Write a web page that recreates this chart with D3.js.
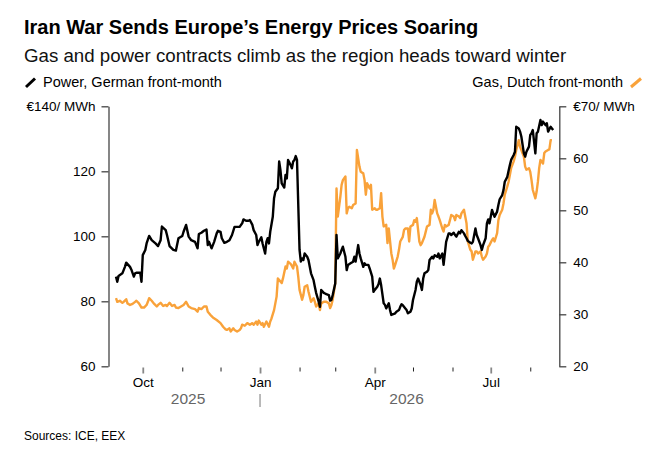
<!DOCTYPE html>
<html>
<head>
<meta charset="utf-8">
<script src="https://cdn.jsdelivr.net/npm/d3@7"></script>
<style>
  body { margin: 0; background: #fff; }
  svg { font-family: "Liberation Sans", Arial, sans-serif; }
</style>
</head>
<body>
<script>
//Chart data
const powerDates = ["2025-09-10","2025-09-11","2025-09-12","2025-09-15","2025-09-17","2025-09-18","2025-09-21","2025-09-22","2025-09-24","2025-09-25","2025-09-26","2025-09-28","2025-09-29","2025-09-30",
  "2025-10-01","2025-10-03","2025-10-04","2025-10-06","2025-10-08","2025-10-11","2025-10-13","2025-10-15","2025-10-16","2025-10-19","2025-10-20","2025-10-22","2025-10-25","2025-10-27","2025-10-29",
  "2025-11-01","2025-11-02","2025-11-04","2025-11-06","2025-11-08","2025-11-11","2025-11-13","2025-11-14","2025-11-16","2025-11-18","2025-11-20","2025-11-21","2025-11-22","2025-11-24","2025-11-26","2025-11-28","2025-11-29",
  "2025-12-01","2025-12-02","2025-12-04","2025-12-06","2025-12-08","2025-12-10","2025-12-12","2025-12-14","2025-12-16","2025-12-18","2025-12-19","2025-12-21","2025-12-23","2025-12-24","2025-12-26","2025-12-27","2025-12-29","2025-12-30","2025-12-31",
  "2026-01-02","2026-01-03","2026-01-05","2026-01-06","2026-01-07","2026-01-08","2026-01-09","2026-01-11","2026-01-12","2026-01-13","2026-01-15","2026-01-16","2026-01-17","2026-01-18","2026-01-20","2026-01-21","2026-01-22","2026-01-23","2026-01-25","2026-01-26","2026-01-27","2026-01-28","2026-01-29","2026-01-30",
  "2026-02-01","2026-02-02","2026-02-03","2026-02-04","2026-02-05","2026-02-07","2026-02-08","2026-02-10","2026-02-12","2026-02-13","2026-02-14","2026-02-16","2026-02-17","2026-02-18","2026-02-20","2026-02-21","2026-02-22","2026-02-24","2026-02-25","2026-02-26","2026-02-27",
  "2026-03-01","2026-03-02","2026-03-03","2026-03-05","2026-03-06","2026-03-07","2026-03-09","2026-03-10","2026-03-11","2026-03-13","2026-03-15","2026-03-16","2026-03-17","2026-03-19","2026-03-20","2026-03-21","2026-03-23","2026-03-24","2026-03-25","2026-03-27","2026-03-28","2026-03-30","2026-03-31",
  "2026-04-01","2026-04-03","2026-04-04","2026-04-05","2026-04-06","2026-04-08","2026-04-09","2026-04-10","2026-04-12","2026-04-13","2026-04-14","2026-04-16","2026-04-17","2026-04-18","2026-04-20","2026-04-21","2026-04-22","2026-04-23","2026-04-25","2026-04-26","2026-04-27","2026-04-29","2026-04-30",
  "2026-05-01","2026-05-03","2026-05-04","2026-05-05","2026-05-07","2026-05-08","2026-05-09","2026-05-10","2026-05-12","2026-05-13","2026-05-14","2026-05-16","2026-05-17","2026-05-18","2026-05-20","2026-05-21","2026-05-22","2026-05-24","2026-05-25","2026-05-26","2026-05-27","2026-05-29","2026-05-30","2026-05-31",
  "2026-06-02","2026-06-03","2026-06-04","2026-06-06","2026-06-07","2026-06-08","2026-06-10","2026-06-11","2026-06-12","2026-06-13","2026-06-15","2026-06-16","2026-06-17","2026-06-19","2026-06-20","2026-06-21","2026-06-23","2026-06-24","2026-06-25","2026-06-27","2026-06-28","2026-06-29","2026-06-30",
  "2026-07-02","2026-07-03","2026-07-04","2026-07-06","2026-07-07","2026-07-08","2026-07-10","2026-07-11","2026-07-12","2026-07-14","2026-07-15","2026-07-16","2026-07-17","2026-07-19","2026-07-20","2026-07-21","2026-07-23","2026-07-24","2026-07-25","2026-07-27","2026-07-28","2026-07-29","2026-07-31",
  "2026-08-01","2026-08-02","2026-08-03","2026-08-05","2026-08-06","2026-08-07","2026-08-09","2026-08-10","2026-08-11","2026-08-13","2026-08-14","2026-08-15","2026-08-17","2026-08-18","2026-08-19"];
const powerPrices = [87.6,86.0,87.8,88.6,90.6,91.9,90.6,89.8,87.6,88.6,88.8,88.8,88.8,86.0,
  94.2,95.8,97.8,100.1,98.8,97.8,97.0,98.8,103.0,101.9,100.4,97.0,95.8,95.6,99.4,
  100.1,101.4,103.5,99.9,98.8,98.3,96.3,100.7,101.1,101.7,102.1,97.3,98.3,96.3,98.3,100.9,101.7,
  101.4,99.4,98.0,98.3,98.8,100.4,102.9,102.9,102.9,104.0,105.2,104.8,104.8,105.0,103.5,101.9,100.4,97.3,98.3,
  99.7,97.8,94.7,98.3,99.4,97.8,101.4,106.0,111.7,113.7,114.8,123.0,120.4,116.3,115.0,118.9,117.8,123.5,121.9,120.9,123.0,123.5,124.7,123.5,
  95.8,92.2,93.2,92.7,94.7,93.7,92.7,88.6,86.5,84.5,82.6,79.9,78.3,83.5,82.6,82.4,82.2,81.9,80.2,80.4,81.9,
  85.5,100.4,93.2,94.7,95.8,96.8,93.7,89.6,91.2,91.7,92.2,93.7,92.2,97.3,94.7,93.2,90.6,91.7,91.2,91.2,90.1,87.6,82.9,
  83.5,84.5,85.3,87.0,85.0,79.4,78.9,77.8,79.4,77.3,75.8,76.1,76.3,76.8,77.3,78.3,79.1,78.8,77.8,77.3,76.3,76.8,77.8,
  80.4,83.5,86.0,87.0,85.0,83.5,87.0,88.6,89.1,89.6,92.7,93.7,93.2,94.2,93.7,94.7,93.2,94.7,91.2,94.7,98.3,100.9,100.9,100.4,
  101.1,100.4,99.9,101.4,100.9,101.9,100.9,100.1,99.4,98.6,98.0,97.8,98.3,102.4,100.4,99.4,97.3,95.8,97.3,99.4,104.0,105.2,104.0,
  108.1,107.0,106.0,107.6,109.6,111.4,112.7,114.2,116.8,118.3,120.2,121.9,123.5,125.0,126.0,133.7,133.2,132.2,130.7,125.5,124.5,126.0,127.6,
  131.2,131.7,132.7,125.5,131.7,132.2,135.8,134.2,135.3,134.2,134.8,132.2,133.7,133.2,132.7];

const gasDates = ["2025-09-10","2025-09-11","2025-09-13","2025-09-15","2025-09-16","2025-09-18","2025-09-19","2025-09-21","2025-09-23","2025-09-25","2025-09-26","2025-09-28","2025-09-30",
  "2025-10-02","2025-10-04","2025-10-05","2025-10-06","2025-10-08","2025-10-10","2025-10-12","2025-10-13","2025-10-15","2025-10-17","2025-10-19","2025-10-20","2025-10-22","2025-10-24","2025-10-26","2025-10-27","2025-10-29","2025-10-31",
  "2025-11-02","2025-11-04","2025-11-06","2025-11-08","2025-11-11","2025-11-13","2025-11-14","2025-11-16","2025-11-18","2025-11-20","2025-11-21","2025-11-23","2025-11-25","2025-11-28",
  "2025-12-01","2025-12-03","2025-12-05","2025-12-06","2025-12-08","2025-12-09","2025-12-11","2025-12-12","2025-12-14","2025-12-16","2025-12-17","2025-12-18","2025-12-20","2025-12-22","2025-12-24","2025-12-26","2025-12-27","2025-12-29","2025-12-30","2025-12-31",
  "2026-01-02","2026-01-03","2026-01-04","2026-01-06","2026-01-08","2026-01-09","2026-01-10","2026-01-12","2026-01-13","2026-01-14","2026-01-15","2026-01-17","2026-01-18","2026-01-19","2026-01-21","2026-01-22","2026-01-23","2026-01-25","2026-01-26","2026-01-27","2026-01-28","2026-01-30","2026-01-31",
  "2026-02-01","2026-02-03","2026-02-04","2026-02-05","2026-02-07","2026-02-08","2026-02-10","2026-02-12","2026-02-13","2026-02-14","2026-02-16","2026-02-17","2026-02-18","2026-02-20","2026-02-21","2026-02-22","2026-02-24","2026-02-25","2026-02-26","2026-02-27",
  "2026-03-01","2026-03-02","2026-03-03","2026-03-05","2026-03-06","2026-03-07","2026-03-09","2026-03-10","2026-03-11","2026-03-12","2026-03-14","2026-03-15","2026-03-17","2026-03-18","2026-03-20","2026-03-21","2026-03-23","2026-03-24","2026-03-25","2026-03-26","2026-03-28","2026-03-29","2026-03-30",
  "2026-04-01","2026-04-02","2026-04-03","2026-04-05","2026-04-06","2026-04-07","2026-04-08","2026-04-10","2026-04-11","2026-04-12","2026-04-14","2026-04-15","2026-04-16","2026-04-17","2026-04-19","2026-04-20","2026-04-21","2026-04-23","2026-04-24","2026-04-25","2026-04-27","2026-04-28","2026-04-29",
  "2026-05-01","2026-05-02","2026-05-03","2026-05-04","2026-05-06","2026-05-07","2026-05-08","2026-05-10","2026-05-11","2026-05-12","2026-05-14","2026-05-15","2026-05-16","2026-05-17","2026-05-18","2026-05-20","2026-05-21","2026-05-22","2026-05-24","2026-05-25","2026-05-26","2026-05-27","2026-05-29","2026-05-30","2026-05-31",
  "2026-06-02","2026-06-03","2026-06-04","2026-06-06","2026-06-07","2026-06-08","2026-06-10","2026-06-11","2026-06-12","2026-06-13","2026-06-15","2026-06-16","2026-06-17","2026-06-19","2026-06-20","2026-06-21","2026-06-23","2026-06-24","2026-06-25","2026-06-27","2026-06-28","2026-06-29","2026-06-30",
  "2026-07-02","2026-07-03","2026-07-04","2026-07-06","2026-07-07","2026-07-08","2026-07-10","2026-07-11","2026-07-12","2026-07-14","2026-07-15","2026-07-16","2026-07-17","2026-07-19","2026-07-20","2026-07-21","2026-07-23","2026-07-24","2026-07-25","2026-07-27","2026-07-28","2026-07-29","2026-07-31",
  "2026-08-01","2026-08-02","2026-08-03","2026-08-05","2026-08-06","2026-08-07","2026-08-08","2026-08-09","2026-08-11","2026-08-12","2026-08-13","2026-08-15","2026-08-16","2026-08-17","2026-08-18"];
const gasPrices = [33.1,32.4,32.6,32.2,32.4,32.9,32.1,31.8,32.0,32.4,32.6,32.1,31.3,
  31.3,31.8,32.4,33.1,32.6,32.0,31.5,31.8,32.2,31.6,31.8,31.6,32.2,31.6,31.8,31.3,31.2,31.5,
  31.8,32.4,31.5,31.2,31.0,30.5,31.2,31.0,31.5,31.5,30.5,29.9,29.4,28.9,
  28.3,27.6,27.1,27.0,27.3,26.7,27.3,27.0,26.7,27.0,27.3,28.0,27.8,28.3,28.0,28.3,28.0,28.6,28.0,28.8,
  28.0,28.3,27.6,28.6,27.6,28.6,29.2,30.8,32.1,33.4,36.9,36.3,36.0,36.9,39.2,38.8,40.1,39.7,39.3,38.8,40.1,39.2,37.2,
  34.7,32.8,33.7,35.3,35.6,34.4,32.4,33.1,32.4,31.5,32.1,30.8,32.1,32.4,32.4,32.4,32.1,31.2,31.8,32.8,
  36.0,54.2,48.8,52.6,54.9,55.8,56.5,49.4,50.4,50.7,50.4,51.0,51.3,61.6,58.4,57.4,57.1,55.8,53.0,55.2,54.2,54.9,50.1,
  50.4,50.1,50.1,50.4,53.3,48.8,46.9,47.2,43.7,46.5,41.7,40.5,38.8,39.5,41.1,42.4,44.0,44.9,46.2,46.5,46.5,44.0,46.9,
  47.2,48.1,47.8,48.5,44.0,43.3,43.7,44.9,45.9,46.9,47.2,50.1,49.4,50.1,52.0,49.4,48.8,48.1,46.5,45.9,47.2,46.9,47.2,48.1,49.1,
  48.8,48.1,49.1,48.8,48.5,49.4,50.1,48.8,47.5,44.0,42.4,42.1,40.5,42.1,42.1,41.7,42.1,41.1,40.5,41.1,41.7,43.0,43.3,
  44.3,44.6,44.0,45.6,48.1,49.1,50.1,51.3,53.0,54.6,55.5,56.8,58.1,59.4,60.3,61.6,63.5,62.2,61.6,60.3,58.4,57.8,58.1,
  57.4,55.8,53.9,52.3,53.6,55.5,58.1,59.7,59.0,61.0,61.3,61.6,61.7,63.5,63.5];

const powerTicks = [60, 80, 100, 120, 140];
const gasTicks = [20, 30, 40, 50, 60, 70];
const quarterMonths = [0, 3, 6, 9]; //Jan, Apr, Jul, Oct get a label
const yearLabels = ["2025", "2026"];

//Layout
const width = 670;
const height = 454;
const plotLeft = 108.5;
const plotRight = 559.3;
const plotTop = 106.3;
const plotBottom = 366.3;
const font = "'Liberation Sans', Arial, sans-serif";
const orange = "#f9a23a";

const parseDate = d3.timeParse("%Y-%m-%d");
const power = powerDates.map((d, i) => ({date: parseDate(d), value: powerPrices[i]}));
const gas = gasDates.map((d, i) => ({date: parseDate(d), value: gasPrices[i]}));

//Scales
const xScale = d3.scaleTime()
    .domain(d3.extent(power.concat(gas), d => d.date))
    .range([116, 553.2]);

const yPower = d3.scaleLinear()
    .domain([60, 140])
    .range([plotBottom, plotTop]);

const yGas = d3.scaleLinear()
    .domain([20, 70])
    .range([plotBottom, plotTop]);

//SVG element
const svg = d3.select("body")
    .append("svg")
    .attr("width", width)
    .attr("height", height);

//Header
svg.append("text")
    .attr("x", 24)
    .attr("y", 34)
    .attr("font-size", 20)
    .attr("font-weight", "bold")
    .attr("fill", "#000")
    .text("Iran War Sends Europe’s Energy Prices Soaring");

svg.append("text")
    .attr("x", 24)
    .attr("y", 61.5)
    .attr("font-size", 18.7)
    .attr("fill", "#111")
    .text("Gas and power contracts climb as the region heads toward winter");

//Legend
svg.append("line")
    .attr("x1", 26).attr("y1", 87)
    .attr("x2", 35).attr("y2", 78.5)
    .attr("stroke", "#000")
    .attr("stroke-width", 3);

svg.append("text")
    .attr("x", 43)
    .attr("y", 87)
    .attr("font-size", 14.5)
    .text("Power, German front-month");

svg.append("text")
    .attr("x", 623)
    .attr("y", 87)
    .attr("font-size", 14.5)
    .attr("text-anchor", "end")
    .text("Gas, Dutch front-month");

svg.append("line")
    .attr("x1", 631).attr("y1", 87)
    .attr("x2", 641).attr("y2", 78.5)
    .attr("stroke", orange)
    .attr("stroke-width", 3);

//Axes
const leftAxis = d3.axisLeft(yPower)
    .tickValues(powerTicks)
    .tickSize(7)
    .tickSizeOuter(0)
    .tickPadding(6)
    .tickFormat(d => d === 140 ? "€140/ MWh" : d);

const rightAxis = d3.axisRight(yGas)
    .tickValues(gasTicks)
    .tickSize(7)
    .tickSizeOuter(0)
    .tickPadding(7)
    .tickFormat(d => d === 70 ? "€70/ MWh" : d);

const bottomAxis = d3.axisBottom(xScale)
    .ticks(d3.timeMonth.every(1))
    .tickSize(6)
    .tickSizeOuter(0)
    .tickPadding(4)
    .tickFormat(d => quarterMonths.includes(d.getMonth()) ? d3.timeFormat("%b")(d) : "");

[[leftAxis, plotLeft], [rightAxis, plotRight]].forEach(([axis, xPos]) => {
  const g = svg.append("g")
      .attr("transform", "translate(" + xPos + ",0)")
      .call(axis)
      .attr("font-family", font)
      .attr("font-size", 13.5);
  g.selectAll("path, line").attr("stroke", "#444").attr("stroke-width", 1.3);
  g.selectAll("text").attr("fill", "#000");
});

const xAxis = svg.append("g")
    .attr("transform", "translate(0," + (plotBottom + 1.2) + ")")
    .call(bottomAxis)
    .attr("font-family", font)
    .attr("font-size", 13.5);
xAxis.select(".domain").remove();
xAxis.selectAll(".tick").each(function(d) {
  const major = quarterMonths.includes(d.getMonth());
  d3.select(this).select("line")
      .attr("y2", major ? 6 : 4)
      .attr("stroke", major ? "#888" : "#222")
      .attr("stroke-width", major ? 1.8 : 1);
});
xAxis.selectAll("text").attr("fill", "#000");

//Year labels and divider
const jan1 = parseDate("2026-01-01");
const [x0, x1] = xScale.range();
const yearCenters = [(x0 + xScale(jan1)) / 2, (xScale(jan1) + x1) / 2];

svg.selectAll(".year")
    .data(yearLabels)
    .join("text")
    .attr("class", "year")
    .attr("x", (d, i) => yearCenters[i])
    .attr("y", 404.3)
    .attr("text-anchor", "middle")
    .attr("font-size", 15.5)
    .attr("fill", "#666")
    .text(d => d);

svg.append("line")
    .attr("x1", xScale(jan1)).attr("x2", xScale(jan1))
    .attr("y1", 394).attr("y2", 407)
    .attr("stroke", "#aaa")
    .attr("stroke-width", 1.6);

//Lines
const lineGas = d3.line()
    .x(d => xScale(d.date))
    .y(d => yGas(d.value));

const linePower = d3.line()
    .x(d => xScale(d.date))
    .y(d => yPower(d.value));

svg.append("path")
    .datum(gas)
    .attr("d", lineGas)
    .attr("fill", "none")
    .attr("stroke", orange)
    .attr("stroke-width", 2.4)
    .attr("stroke-linejoin", "round");

svg.append("path")
    .datum(power)
    .attr("d", linePower)
    .attr("fill", "none")
    .attr("stroke", "#000")
    .attr("stroke-width", 2.4)
    .attr("stroke-linejoin", "round");

//Source
svg.append("text")
    .attr("x", 24)
    .attr("y", 440)
    .attr("font-size", 12)
    .attr("fill", "#000")
    .text("Sources: ICE, EEX");
</script>
</body>
</html>
